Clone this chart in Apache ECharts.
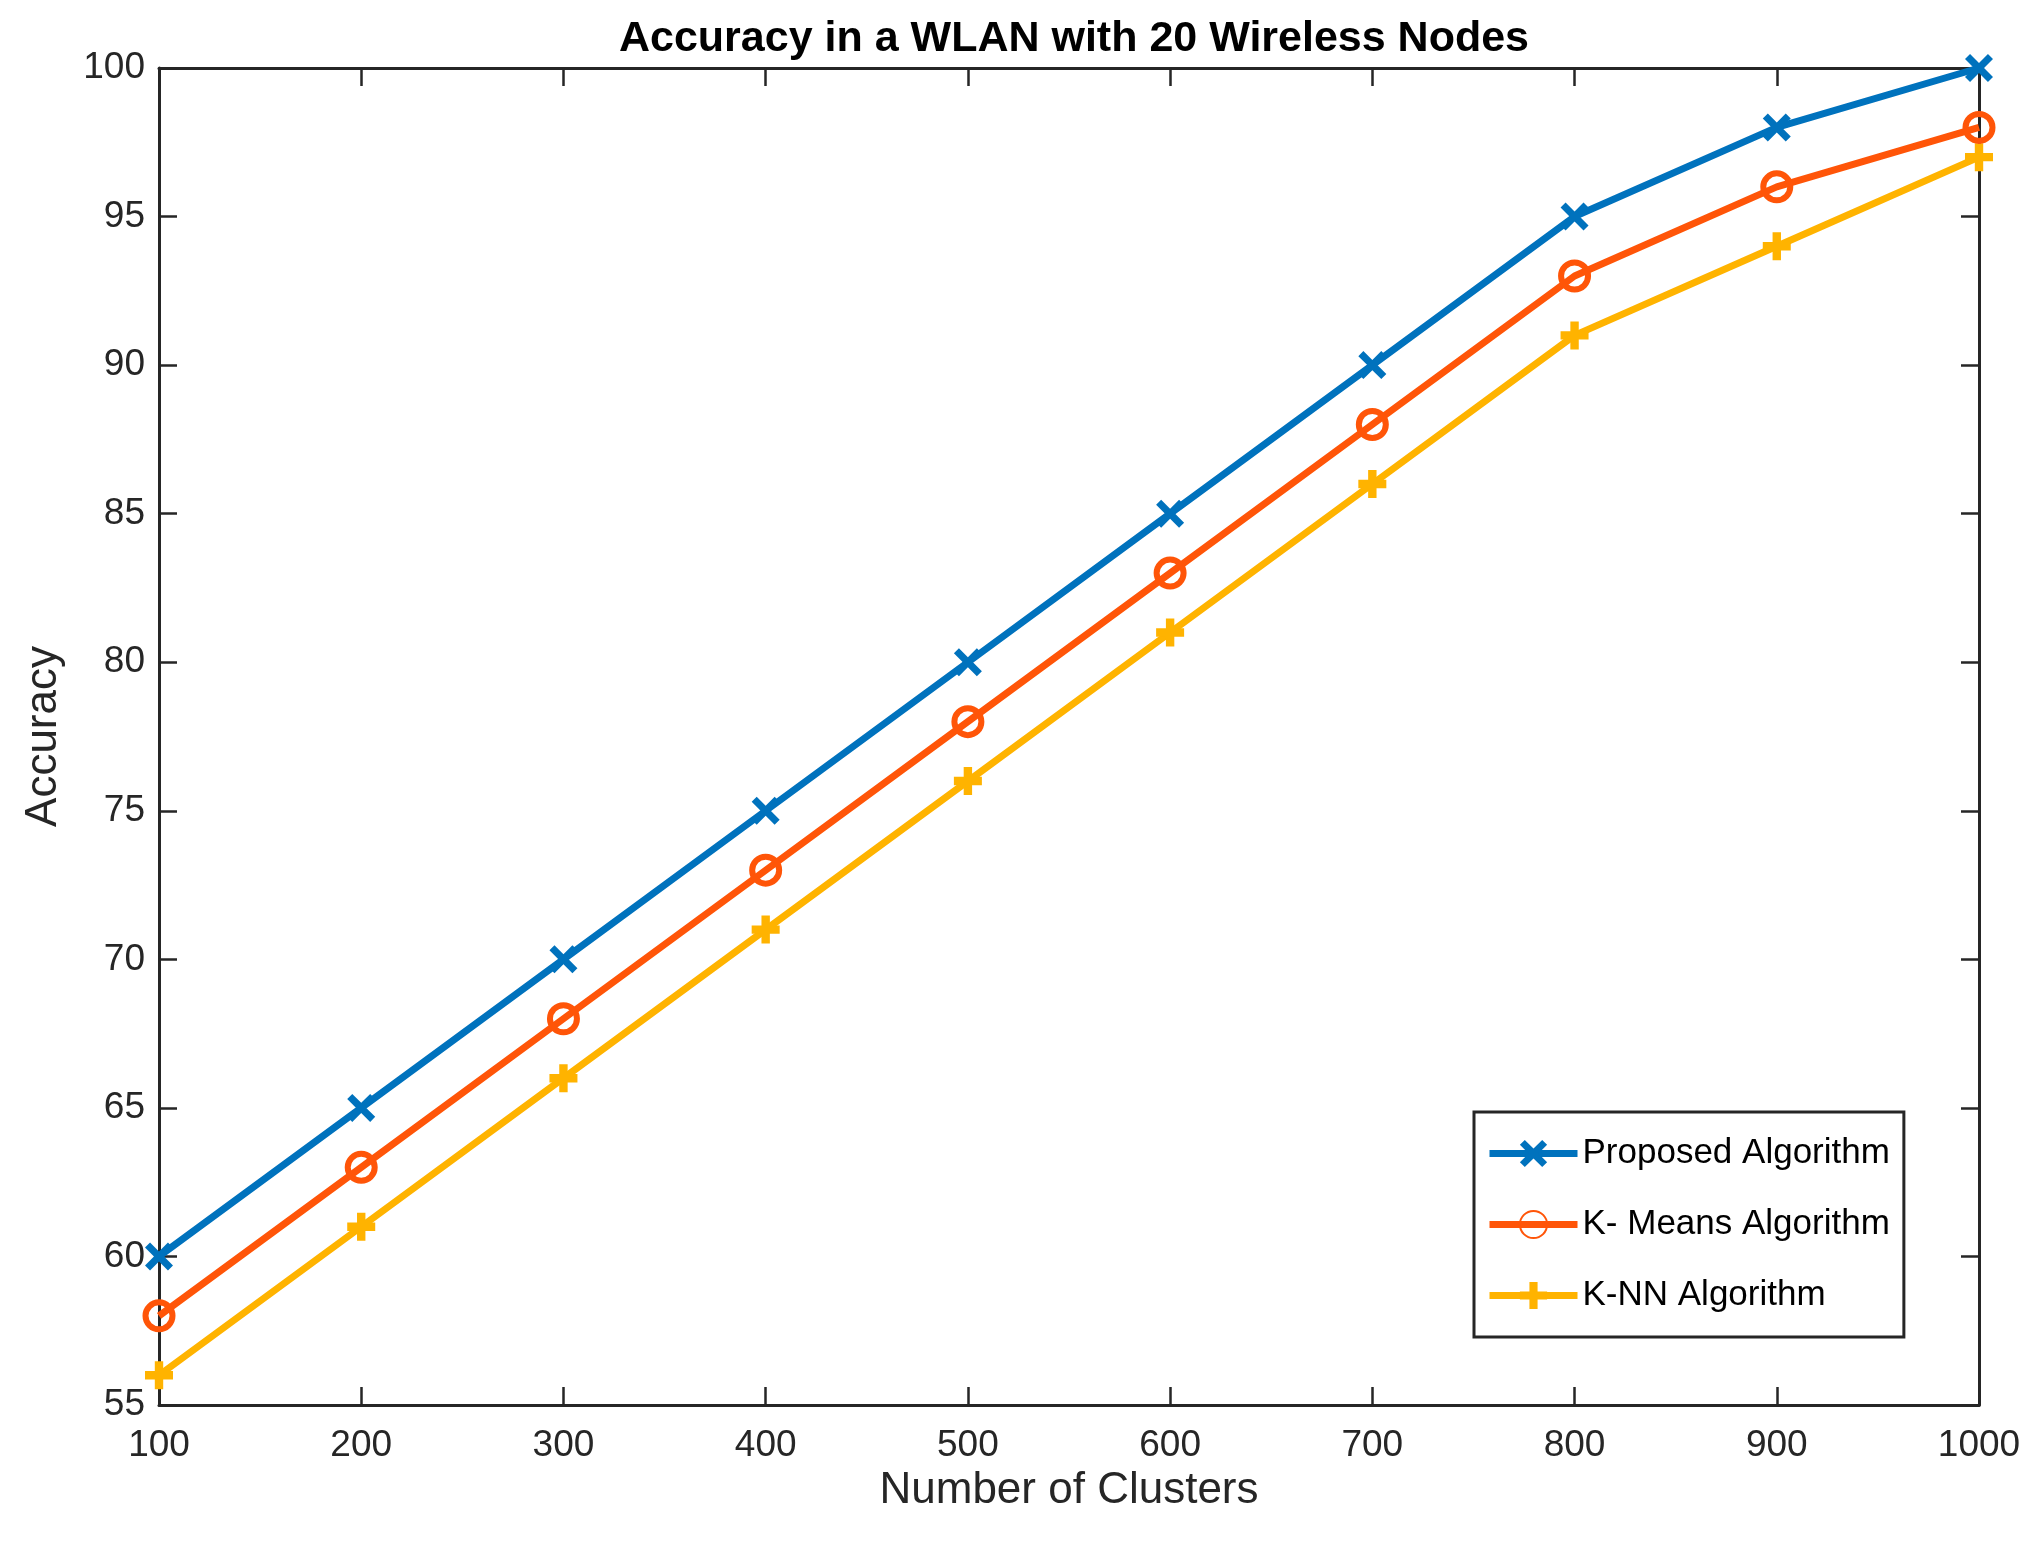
<!DOCTYPE html>
<html>
<head>
<meta charset="utf-8">
<script src="https://cdn.jsdelivr.net/npm/echarts@6/dist/echarts.min.js"></script>
<style>
  html, body { margin: 0; padding: 0; background: #fff; }
  #container { width: 2040px; height: 1542px; }
</style>
</head>
<body>
<div id="container"></div>
<script>
var clusters = [100, 200, 300, 400, 500, 600, 700, 800, 900, 1000];
var proposed = [60, 65, 70, 75, 80, 85, 90, 95, 98, 100];
var kmeans = [58, 63, 68, 73, 78, 83, 88, 93, 96, 98];
var knn = [56, 61, 66, 71, 76, 81, 86, 91, 94, 97];
var seriesNames = ['Proposed Algorithm', 'K- Means Algorithm', 'K-NN Algorithm'];

var font = 'Liberation Sans, Arial, Helvetica, sans-serif';
var axisColor = '#262626';
var crossPath = 'path://M1.8,0 L5,3.2 L8.2,0 L10,1.8 L6.8,5 L10,8.2 L8.2,10 L5,6.8 L1.8,10 L0,8.2 L3.2,5 L0,1.8 Z';
var plusPath = 'path://M3.5,0 H6.5 V3.5 H10 V6.5 H6.5 V10 H3.5 V6.5 H0 V3.5 H3.5 Z';

function pairs(ys) {
    var out = [];
    for (var i = 0; i < clusters.length; i++) out.push([clusters[i], ys[i]]);
    return out;
}

var dom = document.getElementById("container");
var myChart = echarts.init(dom);

var tickStyle = {show: true, inside: true, length: 18, lineStyle: {color: axisColor, width: 2.5}};
var lineStyleAxis = {show: true, lineStyle: {color: axisColor, width: 3}};

var option = {
    animation: false,
    backgroundColor: '#fff',
    title: {
        text: 'Accuracy in a WLAN with 20 Wireless Nodes',
        left: 1069,
        textAlign: 'center',
        top: 13,
        textStyle: {fontFamily: font, fontSize: 43, fontWeight: 'bold', color: '#000'}
    },
    legend: {
        data: seriesNames,
        orient: 'vertical',
        left: 1474,
        top: 1112,
        padding: [24, 14, 24, 12],
        itemGap: 36,
        itemWidth: 88,
        itemHeight: 34,
        borderColor: axisColor,
        borderWidth: 3,
        backgroundColor: '#fff',
        lineStyle: {width: 7},
        textStyle: {fontFamily: font, fontSize: 35, color: '#000'}
    },
    grid: {left: 159, right: 61, top: 68, bottom: 137, containLabel: false},
    xAxis: [
        {
            type: 'value', min: 100, max: 1000, interval: 100, position: 'bottom',
            name: 'Number of Clusters', nameLocation: 'middle', nameGap: 44,
            nameTextStyle: {fontFamily: font, fontSize: 44, color: axisColor},
            axisLine: lineStyleAxis, axisTick: tickStyle, splitLine: {show: false},
            axisLabel: {fontFamily: font, fontSize: 37, color: axisColor, margin: 22,
                formatter: function (v) { return String(v); }}
        },
        {
            type: 'value', min: 100, max: 1000, interval: 100, position: 'top',
            axisLine: lineStyleAxis, axisTick: tickStyle, splitLine: {show: false},
            axisLabel: {show: false}
        }
    ],
    yAxis: [
        {
            type: 'value', min: 55, max: 100, interval: 5, position: 'left',
            name: 'Accuracy', nameLocation: 'middle', nameGap: 93,
            nameTextStyle: {fontFamily: font, fontSize: 44, color: axisColor},
            axisLine: lineStyleAxis, axisTick: tickStyle, splitLine: {show: false},
            axisLabel: {fontFamily: font, fontSize: 37, color: axisColor, margin: 14}
        },
        {
            type: 'value', min: 55, max: 100, interval: 5, position: 'right',
            axisLine: lineStyleAxis, axisTick: tickStyle, splitLine: {show: false},
            axisLabel: {show: false}
        }
    ],
    series: [
        {
            name: seriesNames[0], type: 'line', data: pairs(proposed),
            symbol: crossPath, symbolSize: 28, z: 4,
            lineStyle: {color: '#0072BD', width: 7},
            itemStyle: {color: '#0072BD'}
        },
        {
            name: seriesNames[1], type: 'line', data: pairs(kmeans),
            symbol: 'circle', symbolSize: 27, z: 3,
            lineStyle: {color: '#FF5508', width: 7},
            itemStyle: {color: 'rgba(0,0,0,0)', borderColor: '#FF5508', borderWidth: 6}
        },
        {
            name: seriesNames[2], type: 'line', data: pairs(knn),
            symbol: plusPath, symbolSize: 28, z: 2,
            lineStyle: {color: '#FFB300', width: 7},
            itemStyle: {color: '#FFB300'}
        }
    ]
};
myChart.setOption(option);
</script>
</body>
</html>
